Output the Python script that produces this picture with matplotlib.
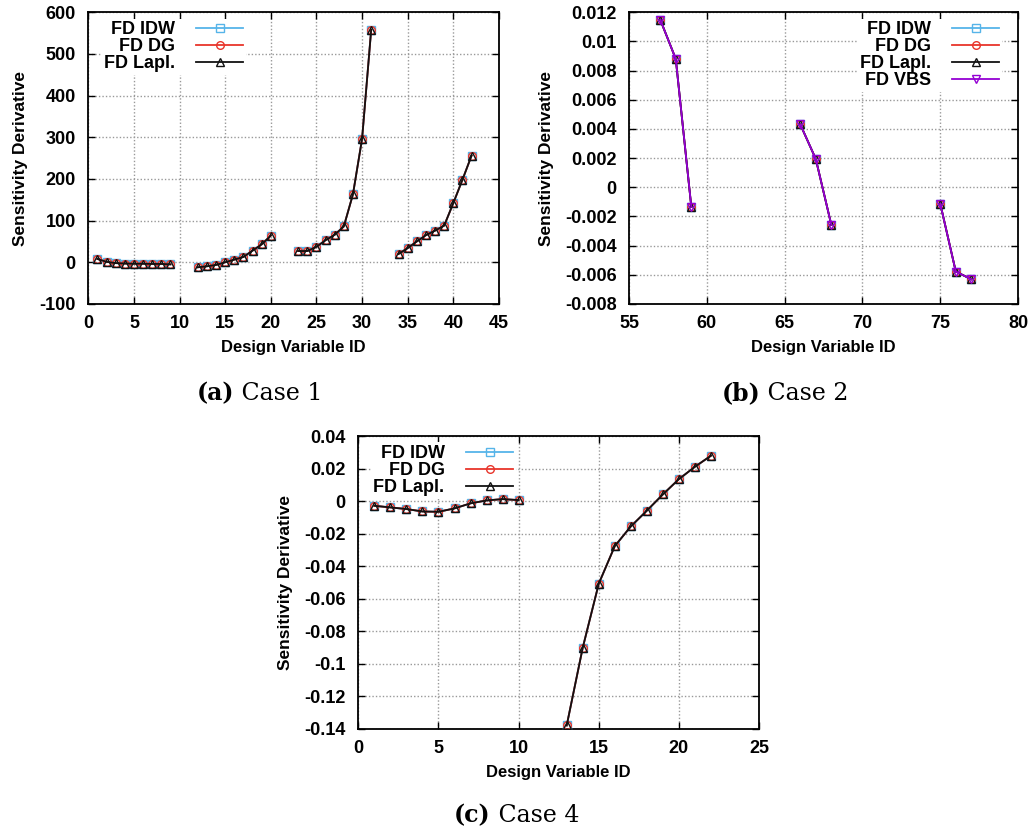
import numpy as np
import matplotlib
matplotlib.use('Agg')
import matplotlib.pyplot as plt

plt.rcParams['font.family'] = ['Liberation Sans', 'DejaVu Sans']
plt.rcParams['font.weight'] = 'bold'
plt.rcParams['axes.unicode_minus'] = False

# case 1: design variables in four separate groups
case1_x = [[1, 2, 3, 4, 5, 6, 7, 8, 9],
           [12, 13, 14, 15, 16, 17, 18, 19, 20],
           [23, 24, 25, 26, 27, 28, 29, 30, 31],
           [34, 35, 36, 37, 38, 39, 40, 41, 42]]
case1_y = [[8, 1, -2, -3, -3.5, -3.5, -4, -4, -5],
           [-12, -9.6, -6.4, 0, 6.4, 12.8, 28, 43, 64],
           [27, 27, 37, 53, 66, 86, 163, 296, 558],
           [20, 34, 50, 65, 76, 88, 142, 198, 256]]

# case 2
case2_x = [[57, 58, 59], [66, 67, 68], [75, 76, 77]]
case2_y = [[0.0115, 0.0088, -0.00135],
           [0.00432, 0.00194, -0.00258],
           [-0.00112, -0.00578, -0.00631]]

# case 4
case4_x = [[1, 2, 3, 4, 5, 6, 7, 8, 9, 10],
           [13, 14, 15, 16, 17, 18, 19, 20, 21, 22]]
case4_y = [[-0.0029, -0.0039, -0.0049, -0.0064, -0.0066, -0.0045, -0.0014, 0.0004, 0.0012, 0.0006],
           [-0.138, -0.0902, -0.0508, -0.0277, -0.0156, -0.0059, 0.0041, 0.0135, 0.0211, 0.0279]]

series = [('FD IDW', '#56b4e9', 's'),
          ('FD DG', '#e8352b', 'o'),
          ('FD Lapl.', '#111111', '^'),
          ('FD VBS', '#9400d3', 'v')]


def draw(ax, xs, ys, nser):
    for name, col, mk in series[:nser]:
        for i, (x, y) in enumerate(zip(xs, ys)):
            ax.plot(x, y, color=col, lw=1.3, marker=mk, ms=5.5, mfc='none',
                    mec=col, mew=1.0, zorder=6,
                    label=name if i == 0 else None)


def style(ax, xlim, ylim, xt, yt, ylabels=None):
    ax.set_xlim(*xlim)
    ax.set_ylim(*ylim)
    ax.set_xticks(xt)
    ax.set_yticks(yt)
    if ylabels is not None:
        ax.set_yticklabels(ylabels)
    ax.grid(True, color='#999999', ls=(0, (1, 1.5)), lw=1.0)
    ax.tick_params(direction='in', length=5, width=1, top=True, right=True,
                   labelsize=13)
    ax.tick_params(axis='y', pad=9)
    ax.tick_params(axis='x', pad=8)
    for s in ax.spines.values():
        s.set_linewidth(1.3)
    for t in ax.get_xticklabels() + ax.get_yticklabels():
        t.set_fontweight('bold')
    ax.set_xlabel('Design Variable ID', fontsize=12, fontweight='bold', labelpad=6)
    ax.set_ylabel('Sensitivity Derivative', fontsize=12.5, fontweight='bold', labelpad=8)


def legend(ax, loc, anchor):
    leg = ax.legend(loc=loc, bbox_to_anchor=anchor, markerfirst=False,
                    frameon=True, fancybox=False, framealpha=1,
                    edgecolor='none', handlelength=2.6, handletextpad=1.2,
                    labelspacing=0.0, borderpad=0.15, borderaxespad=0.35,
                    prop={'weight': 'bold', 'size': 13})
    leg.get_frame().set_linewidth(0)
    leg.set_zorder(5)


fig = plt.figure(figsize=(10.33, 8.35), dpi=100)

ax1 = fig.add_axes([0.0855, 0.636, 0.3975, 0.3493])
draw(ax1, case1_x, case1_y, 3)
style(ax1, (0, 45), (-100, 600), range(0, 46, 5), range(-100, 601, 100))
legend(ax1, 'upper left', (0.015, 1.0))

ax2 = fig.add_axes([0.609, 0.636, 0.3765, 0.3493])
draw(ax2, case2_x, case2_y, 4)
yt2 = np.arange(-0.008, 0.0121, 0.002)
style(ax2, (55, 80), (-0.008, 0.012), range(55, 81, 5), yt2,
      ['-0.008', '-0.006', '-0.004', '-0.002', '0', '0.002', '0.004',
       '0.006', '0.008', '0.01', '0.012'])
legend(ax2, 'upper right', (0.975, 1.0))

ax3 = fig.add_axes([0.3469, 0.1273, 0.3879, 0.3505])
draw(ax3, case4_x, case4_y, 3)
yt3 = np.arange(-0.14, 0.0401, 0.02)
style(ax3, (0, 25), (-0.14, 0.04), range(0, 26, 5), yt3,
      ['-0.14', '-0.12', '-0.1', '-0.08', '-0.06', '-0.04', '-0.02', '0',
       '0.02', '0.04'])
legend(ax3, 'upper left', (0.015, 1.0))

# subfigure captions: bold tag followed by plain text
renderer = fig.canvas.get_renderer()
for xc, y, tag, txt in [(0.2515, 0.521, '(a)', 'Case 1'),
                        (0.7600, 0.521, '(b)', 'Case 2'),
                        (0.5000, 0.0156, '(c)', 'Case 4')]:
    t1 = fig.text(0, y, tag, fontsize=17, fontweight='bold',
                  family='DejaVu Serif', va='baseline')
    t2 = fig.text(0, y, '\u00a0' + txt, fontsize=17, fontweight='normal',
                  family='DejaVu Serif', va='baseline')
    w1 = t1.get_window_extent(renderer).width / fig.bbox.width
    w2 = t2.get_window_extent(renderer).width / fig.bbox.width
    x0 = xc - (w1 + w2) / 2
    t1.set_x(x0)
    t2.set_x(x0 + w1)

fig.savefig('out.png', dpi=100)
